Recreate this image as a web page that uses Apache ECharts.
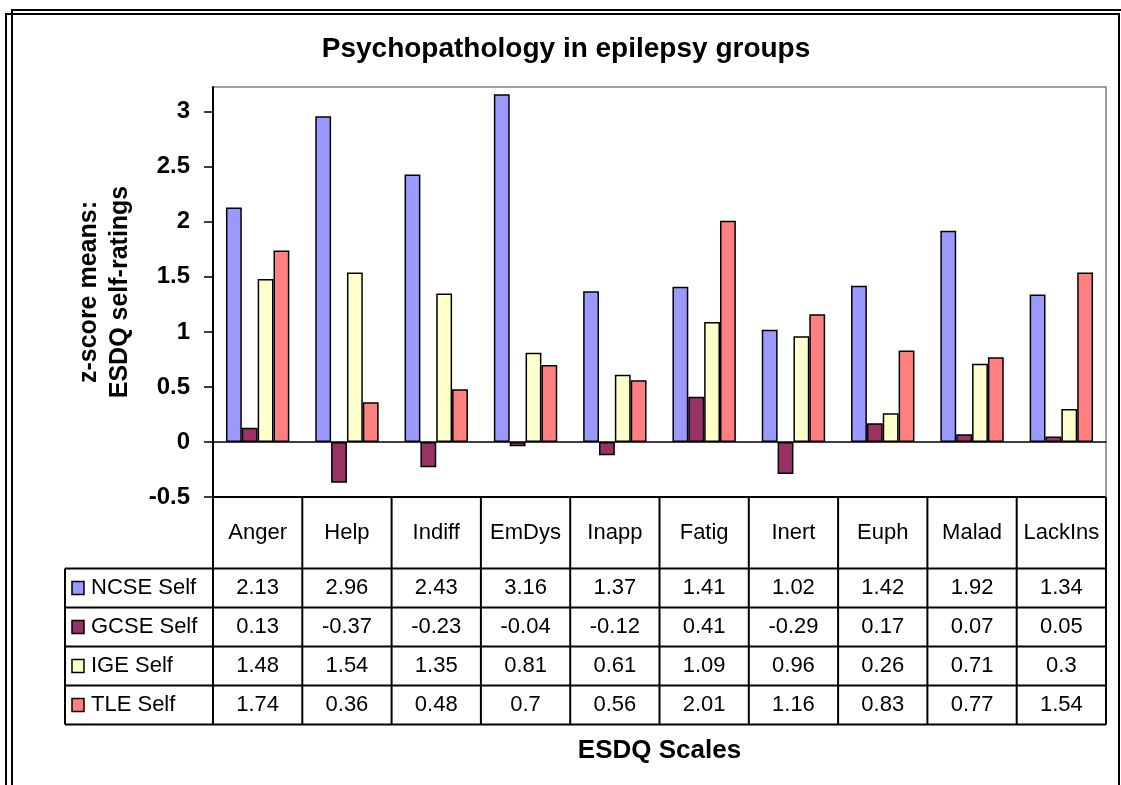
<!DOCTYPE html>
<html>
<head>
<meta charset="utf-8">
<script src="https://cdn.jsdelivr.net/npm/echarts@6/dist/echarts.min.js"></script>
<style>
  html, body { margin: 0; padding: 0; background: #ffffff; }
  #chart { width: 1121px; height: 785px; }
</style>
</head>
<body>
<div id="chart"></div>
<script>
// ESDQ scales (categories)
const scales = ['Anger', 'Help', 'Indiff', 'EmDys', 'Inapp', 'Fatig', 'Inert', 'Euph', 'Malad', 'LackIns'];

// z-score means of ESDQ self-ratings per group
const ncseSelf = [2.13, 2.96, 2.43, 3.16, 1.37, 1.41, 1.02, 1.42, 1.92, 1.34];
const gcseSelf = [0.13, -0.37, -0.23, -0.04, -0.12, 0.41, -0.29, 0.17, 0.07, 0.05];
const igeSelf  = [1.48, 1.54, 1.35, 0.81, 0.61, 1.09, 0.96, 0.26, 0.71, 0.3];
const tleSelf  = [1.74, 0.36, 0.48, 0.7, 0.56, 2.01, 1.16, 0.83, 0.77, 1.54];

const groupNames = ['NCSE Self', 'GCSE Self', 'IGE Self', 'TLE Self'];
const yTicks = [-0.5, 0, 0.5, 1, 1.5, 2, 2.5, 3];

const groupValues = [ncseSelf, gcseSelf, igeSelf, tleSelf];
const groupColors = ['#9999FF', '#993366', '#FFFFCC', '#FF8080'];

const FONT = 'Liberation Sans, Arial, sans-serif';

const chart = echarts.init(document.getElementById('chart'), null, { renderer: 'canvas' });

const option = {
  backgroundColor: '#ffffff',
  animation: false,
  title: {
    text: 'Psychopathology in epilepsy groups',
    left: 566,
    top: 35,
    textAlign: 'center',
    padding: 0,
    textStyle: { fontFamily: FONT, fontSize: 28, fontWeight: 'bold', color: '#000' }
  },
  grid: {
    left: 213, top: 87, right: 15, bottom: 288,
    outerBoundsMode: 'none',
    containLabel: false,
    show: true, borderColor: '#808080', borderWidth: 1.5, backgroundColor: '#ffffff'
  },
  xAxis: {
    type: 'category',
    data: scales,
    axisLine: { onZero: true, lineStyle: { color: '#000', width: 1.5 } },
    axisTick: { show: false },
    axisLabel: { show: false },
    splitLine: { show: false }
  },
  yAxis: {
    type: 'value',
    min: -0.5,
    max: 3.225,
    interval: 0.5,
    axisLine: { show: true, lineStyle: { color: '#000', width: 2 } },
    axisTick: { show: true, length: 9, customValues: yTicks, lineStyle: { color: '#000', width: 1.5 } },
    axisLabel: {
      customValues: yTicks,
      margin: 23,
      fontFamily: FONT, fontSize: 24, fontWeight: 'bold', color: '#000',
      formatter: v => String(v)
    },
    splitLine: { show: false },
    name: 'z-score means:\nESDQ self-ratings',
    nameLocation: 'middle',
    nameRotate: 90,
    nameGap: 77,
    nameTextStyle: { fontFamily: FONT, fontSize: 25, fontWeight: 'bold', color: '#000', lineHeight: 31, align: 'center' }
  },
  series: groupNames.map((name, i) => ({
    name: name,
    type: 'bar',
    data: groupValues[i],
    barGap: '0%',
    barCategoryGap: '29%',
    itemStyle: { color: groupColors[i], borderColor: '#000', borderWidth: 1.5 }
  }))
};

chart.setOption(option);

// Data table under the plot, laid out on the category axis bands
function buildTable() {
  const c0 = chart.convertToPixel({ xAxisIndex: 0 }, scales[0]);
  const c1 = chart.convertToPixel({ xAxisIndex: 0 }, scales[1]);
  const band = c1 - c0;
  const colLeft = c0 - band / 2;
  const colRight = colLeft + band * scales.length;
  const tableTop = chart.convertToPixel({ yAxisIndex: 0 }, -0.5);
  const headerH = 71.5;
  const rowH = 39;
  const keyLeft = 65;
  const headerBottom = tableTop + headerH;
  const tableBottom = headerBottom + rowH * groupNames.length;

  const lineStyle = { stroke: '#000', lineWidth: 2 };
  const els = [];

  // horizontal rules
  els.push({ type: 'line', shape: { x1: colLeft, y1: tableTop, x2: colRight, y2: tableTop }, style: lineStyle });
  for (let r = 0; r <= groupNames.length; r++) {
    const y = headerBottom + r * rowH;
    els.push({ type: 'line', shape: { x1: keyLeft, y1: y, x2: colRight, y2: y }, style: lineStyle });
  }
  // vertical rules
  for (let c = 0; c <= scales.length; c++) {
    const x = colLeft + c * band;
    els.push({ type: 'line', shape: { x1: x, y1: tableTop, x2: x, y2: tableBottom }, style: lineStyle });
  }
  els.push({ type: 'line', shape: { x1: keyLeft, y1: headerBottom, x2: keyLeft, y2: tableBottom }, style: lineStyle });

  // column headers
  scales.forEach((s, c) => {
    els.push({
      type: 'text',
      x: colLeft + (c + 0.5) * band,
      y: (tableTop + headerBottom) / 2,
      style: { text: s, font: '22px ' + FONT, fill: '#000', align: 'center', verticalAlign: 'middle' }
    });
  });

  // rows: legend key, group name, values
  groupNames.forEach((g, r) => {
    const yc = headerBottom + (r + 0.5) * rowH;
    els.push({
      type: 'rect',
      shape: { x: 72, y: yc - 6.5, width: 12, height: 13 },
      style: { fill: groupColors[r], stroke: '#000', lineWidth: 1.5 }
    });
    els.push({
      type: 'text', x: 91, y: yc,
      style: { text: g, font: '22px ' + FONT, fill: '#000', align: 'left', verticalAlign: 'middle' }
    });
    groupValues[r].forEach((v, c) => {
      els.push({
        type: 'text',
        x: colLeft + (c + 0.5) * band,
        y: yc,
        style: { text: String(v), font: '22px ' + FONT, fill: '#000', align: 'center', verticalAlign: 'middle' }
      });
    });
  });

  // category axis title, centred under the plot
  els.push({
    type: 'text',
    x: (colLeft + colRight) / 2,
    y: 751,
    style: { text: 'ESDQ Scales', font: 'bold 26px ' + FONT, fill: '#000', align: 'center', verticalAlign: 'middle' }
  });

  // double outer frame
  const frame = { stroke: '#000', lineWidth: 2, fill: null };
  els.push({ type: 'polyline', shape: { points: [[12, 785], [12, 10], [1121, 10]] }, style: frame });
  els.push({ type: 'polyline', shape: { points: [[6, 785], [6, 14], [1119, 14], [1119, 785]] }, style: frame });

  chart.setOption({ graphic: els });
}

buildTable();
</script>
</body>
</html>
